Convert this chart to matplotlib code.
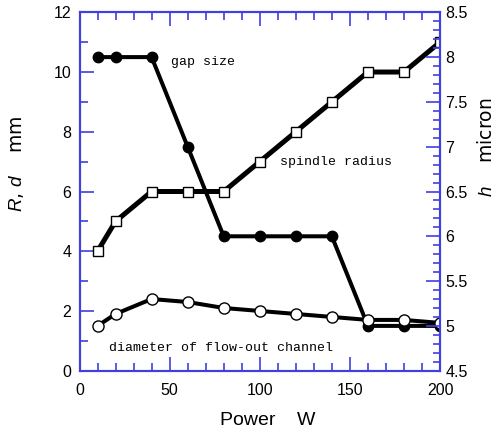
import matplotlib
matplotlib.use("Agg")
import matplotlib.pyplot as plt
from matplotlib.ticker import MultipleLocator, FormatStrFormatter

# data
power = [10, 20, 40, 60, 80, 100, 120, 140, 160, 180, 200]
gap_size = [10.5, 10.5, 10.5, 7.5, 4.5, 4.5, 4.5, 4.5, 1.5, 1.5, 1.5]
spindle_radius = [4, 5, 6, 6, 6, 7, 8, 9, 10, 10, 11]
flow_out_diameter = [1.5, 1.9, 2.4, 2.3, 2.1, 2.0, 1.9, 1.8, 1.7, 1.7, 1.6]

blue = '#4040e0'
tick_font = 'Liberation Sans'
plt.rcParams['mathtext.fontset'] = 'custom'
plt.rcParams['mathtext.it'] = 'Liberation Sans:italic'
plt.rcParams['mathtext.rm'] = 'Liberation Sans'

fig = plt.figure(figsize=(4.97, 4.36), dpi=100)
ax = fig.add_axes([79.5 / 497, 1 - 370.7 / 436, 360.5 / 497, 358.4 / 436])
ax2 = ax.twinx()

ax.plot(power, gap_size, color='black', lw=2.9, marker='o', ms=7.5,
        mfc='black', mec='black', zorder=3)
ax.plot(power, flow_out_diameter, color='black', lw=2.9, marker='o', ms=8,
        mfc='white', mec='black', mew=1.0, zorder=4)
ax.plot(power, spindle_radius, color='black', lw=3.6, marker='s', ms=7.5,
        mfc='white', mec='black', mew=1.0, zorder=5)

ax.set_xlim(0, 200)
ax.set_ylim(0, 12)
ax2.set_ylim(4.5, 8.5)

ax.xaxis.set_major_locator(MultipleLocator(50))
ax.xaxis.set_minor_locator(MultipleLocator(10))
ax.yaxis.set_major_locator(MultipleLocator(2))
ax.yaxis.set_minor_locator(MultipleLocator(1))
ax2.yaxis.set_major_locator(MultipleLocator(0.5))
ax2.yaxis.set_minor_locator(MultipleLocator(0.1))
ax2.yaxis.set_major_formatter(FormatStrFormatter('%g'))

ax.tick_params(which='both', direction='in', color=blue, top=True, right=False,
               labelsize=11.5)
ax.tick_params(axis='x', pad=9)
ax.tick_params(axis='y', pad=6)
ax.tick_params(which='major', length=10, width=1.2)
ax.tick_params(which='minor', length=6, width=1.2)
ax2.tick_params(which='both', direction='in', color=blue, labelsize=11.5, pad=4)
ax2.tick_params(which='major', length=10, width=1.2)
ax2.tick_params(which='minor', length=5, width=1.2)
for a in (ax, ax2):
    for sp in a.spines.values():
        sp.set_color(blue)
        sp.set_linewidth(1.5)
    for lab in a.get_xticklabels() + a.get_yticklabels():
        lab.set_family(tick_font)

ax.text(51, 10.33, 'gap size', family='Liberation Mono', fontsize=9.5,
        va='center', ha='left')
ax.text(111, 7.0, 'spindle radius', family='Liberation Mono', fontsize=9.5,
        va='center', ha='left')
ax.text(16.5, 0.77, 'diameter of flow-out channel', family='Liberation Mono',
        fontsize=9.5, va='center', ha='left')

fig.text(268 / 497, 1 - 420 / 436, 'Power    W', family=tick_font,
         fontsize=14, ha='center', va='center')
fig.text(17 / 497, 1 - 164 / 436, r'$R$, $d$    mm', fontsize=13.5,
         rotation=90, ha='center', va='center')
fig.text(487 / 497, 1 - 147 / 436, r'$h$    micron', fontsize=13.5,
         rotation=90, ha='center', va='center')

fig.savefig('out.png', dpi=100)
